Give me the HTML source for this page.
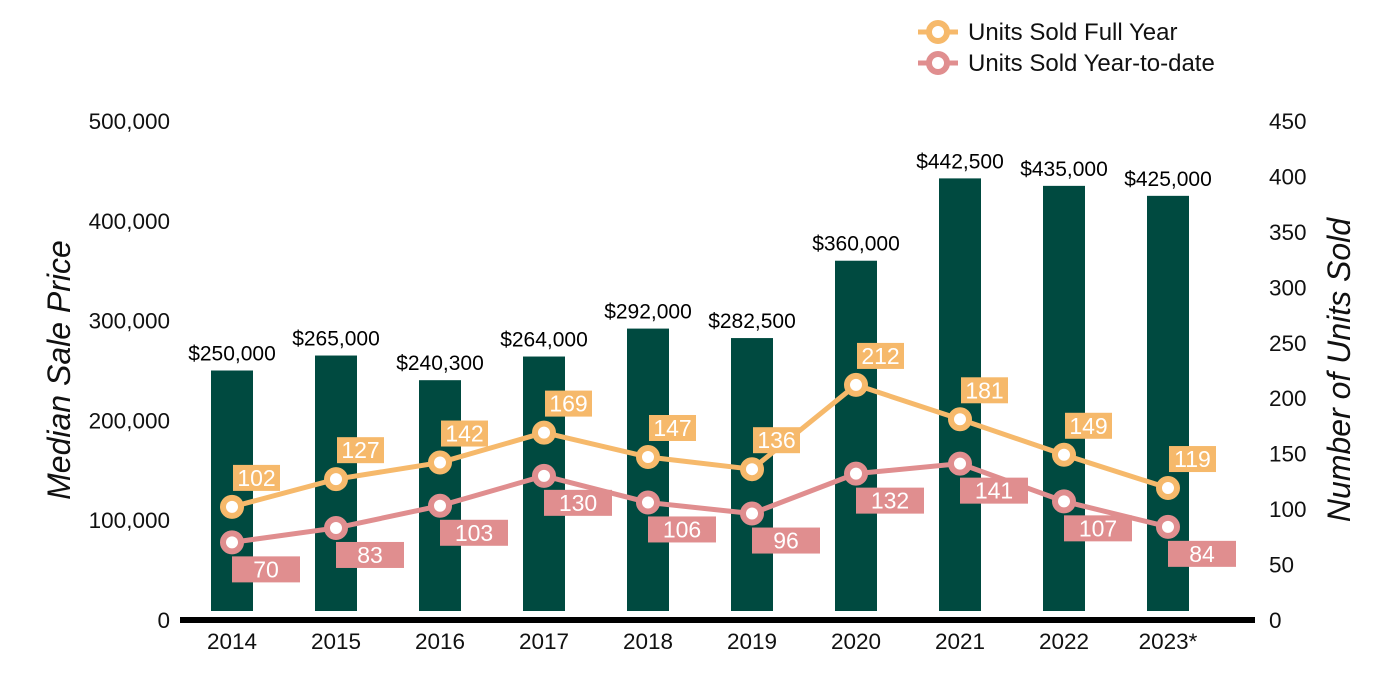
<!DOCTYPE html>
<html><head><meta charset="utf-8"><style>
body{margin:0;background:#fff;}
svg{display:block;font-family:"Liberation Sans",Arial,sans-serif;}
</style></head><body>
<svg id="chart" width="1400" height="700"></svg>
<script>
const years=["2014","2015","2016","2017","2018","2019","2020","2021","2022","2023*"];
const prices=[250000,265000,240300,264000,292000,282500,360000,442500,435000,425000];
const priceLabels=["$250,000","$265,000","$240,300","$264,000","$292,000","$282,500","$360,000","$442,500","$435,000","$425,000"];
const fullYear=[102,127,142,169,147,136,212,181,149,119];
const ytd=[70,83,103,130,106,96,132,141,107,84];
const leftTicks=[0,100000,200000,300000,400000,500000];
const rightTicks=[0,50,100,150,200,250,300,350,400,450];
const NS="http://www.w3.org/2000/svg";
const svg=document.getElementById('chart');
function el(t,a,txt){const e=document.createElementNS(NS,t);for(const k in a)e.setAttribute(k,a[k]);if(txt!==undefined)e.textContent=txt;svg.appendChild(e);return e;}
const y0=620;
const yL=v=>y0-v*(499/500000);
const yR=v=>y0-v*(499/450);
const xC=i=>232+i*104;
const OR="#F6B96B",PK="#E08E8F",BAR="#004A40";
leftTicks.forEach(t=>{const e=el('text',{x:170,y:yL(t)+8,'text-anchor':'end','font-size':22.5,fill:'#111'},t.toLocaleString('en-US'));
});
rightTicks.forEach(t=>{const e=el('text',{x:1269,y:yR(t)+8,'font-size':22.5,fill:'#111'},String(t));
});
let e=el('text',{x:0,y:0,transform:'translate(70,370) rotate(-90)','text-anchor':'middle','font-size':32,'font-style':'italic',fill:'#111'},'Median Sale Price');

e=el('text',{x:0,y:0,transform:'translate(1350,370) rotate(-90)','text-anchor':'middle','font-size':32,'font-style':'italic',fill:'#111'},'Number of Units Sold');

prices.forEach((p,i)=>{
const b=el('rect',{x:xC(i)-21,y:yL(p),width:42,height:611-yL(p),fill:BAR});

const t=el('text',{x:xC(i),y:yL(p)-10,'text-anchor':'middle','font-size':21,fill:'#000'},priceLabels[i]);

const x=el('text',{x:xC(i),y:649,'text-anchor':'middle','font-size':22.5,fill:'#111'},years[i]);

});
e=el('rect',{x:180,y:617,width:1075,height:6,fill:'#000'});

function series(vals,color,name,lx,ly,lw){
const l=el('polyline',{points:vals.map((v,i)=>xC(i)+','+yR(v)).join(' '),fill:'none',stroke:color,'stroke-width':5});

vals.forEach((v,i)=>{
const c=el('circle',{cx:xC(i),cy:yR(v),r:9,fill:'#fff',stroke:color,'stroke-width':6});

const r=el('rect',{x:xC(i)+lx,y:yR(v)+ly,width:lw,height:26,fill:color});

const t=el('text',{x:xC(i)+lx+lw/2,y:yR(v)+ly+21,'text-anchor':'middle','font-size':23,fill:'#fff'},String(v));

});}
series(fullYear,OR,'full-year',1,-42,47);
series(ytd,PK,'ytd',0,14,68);
[[OR,'Units Sold Full Year',32],[PK,'Units Sold Year-to-date',63]].forEach(([c,txt,y])=>{
const l=el('line',{x1:918,y1:y,x2:958,y2:y,stroke:c,'stroke-width':5});

const ci=el('circle',{cx:938,cy:y,r:9,fill:'#fff',stroke:c,'stroke-width':6});

const t=el('text',{x:968,y:y+8,'font-size':24,fill:'#111'},txt);

});
</script>
</body></html>
